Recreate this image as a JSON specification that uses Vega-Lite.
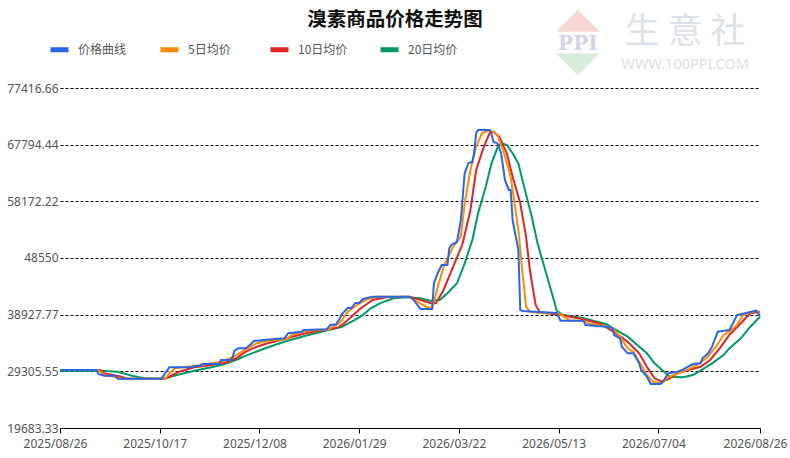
{
  "$schema": "https://vega.github.io/schema/vega-lite/v6.json",
  "description": "溴素商品价格走势图",
  "width": 700,
  "height": 340,
  "autosize": {"type": "none"},
  "padding": {"left": 60, "top": 88, "right": 30, "bottom": 30},
  "background": "#ffffff",
  "title": {
    "text": "溴素商品价格走势图",
    "font": "Noto Sans CJK SC",
    "fontSize": 19.5,
    "fontWeight": "bold",
    "color": "#111111",
    "anchor": "middle",
    "frame": "group",
    "offset": -21,
    "dx": -15
  },
  "datasets": {
    "prices": [
      {"s": "20日均价", "d": "2025/08/26", "v": 29400},
      {"s": "20日均价", "d": "2025/09/14", "v": 29440},
      {"s": "20日均价", "d": "2025/09/25", "v": 29240},
      {"s": "20日均价", "d": "2025/10/03", "v": 28510},
      {"s": "20日均价", "d": "2025/10/09", "v": 28120},
      {"s": "20日均价", "d": "2025/10/19", "v": 28060},
      {"s": "20日均价", "d": "2025/10/26", "v": 28680},
      {"s": "20日均价", "d": "2025/11/04", "v": 29410},
      {"s": "20日均价", "d": "2025/11/13", "v": 29990},
      {"s": "20日均价", "d": "2025/11/20", "v": 30550},
      {"s": "20日均价", "d": "2025/11/27", "v": 31400},
      {"s": "20日均价", "d": "2025/11/30", "v": 31850},
      {"s": "20日均价", "d": "2025/12/11", "v": 33220},
      {"s": "20日均价", "d": "2025/12/21", "v": 34340},
      {"s": "20日均价", "d": "2026/01/01", "v": 35360},
      {"s": "20日均价", "d": "2026/01/13", "v": 36330},
      {"s": "20日均价", "d": "2026/01/20", "v": 36880},
      {"s": "20日均价", "d": "2026/01/27", "v": 38100},
      {"s": "20日均价", "d": "2026/01/31", "v": 38900},
      {"s": "20日均价", "d": "2026/02/04", "v": 40000},
      {"s": "20日均价", "d": "2026/02/09", "v": 40900},
      {"s": "20日均价", "d": "2026/02/16", "v": 41710},
      {"s": "20日均价", "d": "2026/02/23", "v": 41880},
      {"s": "20日均价", "d": "2026/03/02", "v": 41710},
      {"s": "20日均价", "d": "2026/03/07", "v": 41300},
      {"s": "20日均价", "d": "2026/03/12", "v": 41420},
      {"s": "20日均价", "d": "2026/03/16", "v": 42560},
      {"s": "20日均价", "d": "2026/03/21", "v": 44260},
      {"s": "20日均价", "d": "2026/03/25", "v": 47650},
      {"s": "20日均价", "d": "2026/03/29", "v": 51610},
      {"s": "20日均价", "d": "2026/04/01", "v": 56140},
      {"s": "20日均价", "d": "2026/04/05", "v": 60660},
      {"s": "20日均价", "d": "2026/04/08", "v": 64630},
      {"s": "20日均价", "d": "2026/04/11", "v": 67180},
      {"s": "20日均价", "d": "2026/04/13", "v": 68030},
      {"s": "20日均价", "d": "2026/04/16", "v": 67740},
      {"s": "20日均价", "d": "2026/04/19", "v": 66330},
      {"s": "20日均价", "d": "2026/04/22", "v": 64630},
      {"s": "20日均价", "d": "2026/04/25", "v": 60660},
      {"s": "20日均价", "d": "2026/04/29", "v": 55560},
      {"s": "20日均价", "d": "2026/05/02", "v": 51050},
      {"s": "20日均价", "d": "2026/05/06", "v": 46510},
      {"s": "20日均价", "d": "2026/05/10", "v": 41980},
      {"s": "20日均价", "d": "2026/05/12", "v": 39600},
      {"s": "20日均价", "d": "2026/05/15", "v": 38900},
      {"s": "20日均价", "d": "2026/05/26", "v": 38310},
      {"s": "20日均价", "d": "2026/06/07", "v": 37300},
      {"s": "20日均价", "d": "2026/06/10", "v": 36700},
      {"s": "20日均价", "d": "2026/06/18", "v": 35190},
      {"s": "20日均价", "d": "2026/06/23", "v": 33780},
      {"s": "20日均价", "d": "2026/06/28", "v": 32370},
      {"s": "20日均价", "d": "2026/07/02", "v": 30670},
      {"s": "20日均价", "d": "2026/07/06", "v": 29530},
      {"s": "20日均价", "d": "2026/07/10", "v": 28400},
      {"s": "20日均价", "d": "2026/07/17", "v": 28290},
      {"s": "20日均价", "d": "2026/07/22", "v": 28680},
      {"s": "20日均价", "d": "2026/07/27", "v": 29650},
      {"s": "20日均价", "d": "2026/08/01", "v": 30670},
      {"s": "20日均价", "d": "2026/08/07", "v": 32080},
      {"s": "20日均价", "d": "2026/08/10", "v": 33200},
      {"s": "20日均价", "d": "2026/08/16", "v": 34920},
      {"s": "20日均价", "d": "2026/08/21", "v": 36880},
      {"s": "20日均价", "d": "2026/08/26", "v": 38580},

      {"s": "10日均价", "d": "2025/08/26", "v": 29530},
      {"s": "10日均价", "d": "2025/09/16", "v": 29530},
      {"s": "10日均价", "d": "2025/09/18", "v": 28970},
      {"s": "10日均价", "d": "2025/09/27", "v": 28400},
      {"s": "10日均价", "d": "2025/09/30", "v": 28060},
      {"s": "10日均价", "d": "2025/10/20", "v": 28060},
      {"s": "10日均价", "d": "2025/10/27", "v": 29240},
      {"s": "10日均价", "d": "2025/11/04", "v": 29990},
      {"s": "10日均价", "d": "2025/11/13", "v": 30380},
      {"s": "10日均价", "d": "2025/11/20", "v": 30770},
      {"s": "10日均价", "d": "2025/11/26", "v": 31520},
      {"s": "10日均价", "d": "2025/11/30", "v": 32470},
      {"s": "10日均价", "d": "2025/12/05", "v": 33300},
      {"s": "10日均价", "d": "2025/12/11", "v": 33950},
      {"s": "10日均价", "d": "2025/12/21", "v": 34800},
      {"s": "10日均价", "d": "2026/01/01", "v": 35760},
      {"s": "10日均价", "d": "2026/01/13", "v": 36440},
      {"s": "10日均价", "d": "2026/01/18", "v": 36720},
      {"s": "10日均价", "d": "2026/01/22", "v": 37730},
      {"s": "10日均价", "d": "2026/01/25", "v": 38580},
      {"s": "10日均价", "d": "2026/01/29", "v": 39800},
      {"s": "10日均价", "d": "2026/02/05", "v": 41420},
      {"s": "10日均价", "d": "2026/02/12", "v": 41880},
      {"s": "10日均价", "d": "2026/02/24", "v": 41980},
      {"s": "10日均价", "d": "2026/03/02", "v": 41420},
      {"s": "10日均价", "d": "2026/03/07", "v": 40900},
      {"s": "10日均价", "d": "2026/03/10", "v": 40860},
      {"s": "10日均价", "d": "2026/03/14", "v": 43120},
      {"s": "10日均价", "d": "2026/03/19", "v": 47070},
      {"s": "10日均价", "d": "2026/03/24", "v": 51050},
      {"s": "10日均价", "d": "2026/03/28", "v": 56700},
      {"s": "10日均价", "d": "2026/03/31", "v": 63490},
      {"s": "10日均价", "d": "2026/04/04", "v": 67450},
      {"s": "10日均价", "d": "2026/04/07", "v": 69730},
      {"s": "10日均价", "d": "2026/04/09", "v": 70000},
      {"s": "10日均价", "d": "2026/04/12", "v": 69150},
      {"s": "10日均价", "d": "2026/04/16", "v": 66330},
      {"s": "10日均价", "d": "2026/04/19", "v": 62360},
      {"s": "10日均价", "d": "2026/04/23", "v": 57840},
      {"s": "10日均价", "d": "2026/04/26", "v": 52170},
      {"s": "10日均价", "d": "2026/04/28", "v": 46510},
      {"s": "10日均价", "d": "2026/05/01", "v": 40570},
      {"s": "10日均价", "d": "2026/05/03", "v": 39430},
      {"s": "10日均价", "d": "2026/05/05", "v": 39260},
      {"s": "10日均价", "d": "2026/05/14", "v": 38870},
      {"s": "10日均价", "d": "2026/05/26", "v": 38140},
      {"s": "10日均价", "d": "2026/06/04", "v": 37340},
      {"s": "10日均价", "d": "2026/06/12", "v": 35760},
      {"s": "10日均价", "d": "2026/06/18", "v": 34340},
      {"s": "10日均价", "d": "2026/06/24", "v": 32370},
      {"s": "10日均价", "d": "2026/06/28", "v": 30090},
      {"s": "10日均价", "d": "2026/07/02", "v": 28120},
      {"s": "10日均价", "d": "2026/07/06", "v": 27540},
      {"s": "10日均价", "d": "2026/07/09", "v": 27960},
      {"s": "10日均价", "d": "2026/07/14", "v": 28970},
      {"s": "10日均价", "d": "2026/07/21", "v": 29650},
      {"s": "10日均价", "d": "2026/07/26", "v": 30090},
      {"s": "10日均价", "d": "2026/07/31", "v": 31230},
      {"s": "10日均价", "d": "2026/08/05", "v": 33220},
      {"s": "10日均价", "d": "2026/08/10", "v": 35480},
      {"s": "10日均价", "d": "2026/08/16", "v": 37460},
      {"s": "10日均价", "d": "2026/08/21", "v": 39160},
      {"s": "10日均价", "d": "2026/08/26", "v": 39430},

      {"s": "5日均价", "d": "2025/08/26", "v": 29530},
      {"s": "5日均价", "d": "2025/09/15", "v": 29530},
      {"s": "5日均价", "d": "2025/09/18", "v": 28680},
      {"s": "5日均价", "d": "2025/09/25", "v": 28290},
      {"s": "5日均价", "d": "2025/09/27", "v": 28060},
      {"s": "5日均价", "d": "2025/10/20", "v": 28060},
      {"s": "5日均价", "d": "2025/10/22", "v": 29000},
      {"s": "5日均价", "d": "2025/10/25", "v": 29820},
      {"s": "5日均价", "d": "2025/11/04", "v": 30210},
      {"s": "5日均价", "d": "2025/11/10", "v": 30500},
      {"s": "5日均价", "d": "2025/11/18", "v": 30940},
      {"s": "5日均价", "d": "2025/11/24", "v": 31700},
      {"s": "5日均价", "d": "2025/11/29", "v": 32700},
      {"s": "5日均价", "d": "2025/12/06", "v": 34000},
      {"s": "5日均价", "d": "2025/12/11", "v": 34460},
      {"s": "5日均价", "d": "2025/12/22", "v": 34800},
      {"s": "5日均价", "d": "2025/12/25", "v": 35480},
      {"s": "5日均价", "d": "2025/12/29", "v": 35940},
      {"s": "5日均价", "d": "2026/01/03", "v": 36210},
      {"s": "5日均价", "d": "2026/01/13", "v": 36400},
      {"s": "5日均价", "d": "2026/01/15", "v": 36800},
      {"s": "5日均价", "d": "2026/01/18", "v": 37300},
      {"s": "5日均价", "d": "2026/01/20", "v": 38000},
      {"s": "5日均价", "d": "2026/01/23", "v": 39430},
      {"s": "5日均价", "d": "2026/01/28", "v": 40570},
      {"s": "5日均价", "d": "2026/02/02", "v": 41540},
      {"s": "5日均价", "d": "2026/02/07", "v": 41980},
      {"s": "5日均价", "d": "2026/02/24", "v": 41980},
      {"s": "5日均价", "d": "2026/02/28", "v": 41130},
      {"s": "5日均价", "d": "2026/03/05", "v": 40280},
      {"s": "5日均价", "d": "2026/03/08", "v": 39950},
      {"s": "5日均价", "d": "2026/03/11", "v": 43680},
      {"s": "5日均价", "d": "2026/03/14", "v": 47070},
      {"s": "5日均价", "d": "2026/03/19", "v": 50470},
      {"s": "5日均价", "d": "2026/03/23", "v": 52170},
      {"s": "5日均价", "d": "2026/03/25", "v": 57840},
      {"s": "5日均价", "d": "2026/03/28", "v": 63490},
      {"s": "5日均价", "d": "2026/03/31", "v": 67450},
      {"s": "5日均价", "d": "2026/04/03", "v": 69730},
      {"s": "5日均价", "d": "2026/04/07", "v": 70290},
      {"s": "5日均价", "d": "2026/04/11", "v": 69440},
      {"s": "5日均价", "d": "2026/04/14", "v": 66890},
      {"s": "5日均价", "d": "2026/04/18", "v": 62360},
      {"s": "5日均价", "d": "2026/04/20", "v": 57840},
      {"s": "5日均价", "d": "2026/04/22", "v": 53310},
      {"s": "5日均价", "d": "2026/04/24", "v": 46510},
      {"s": "5日均价", "d": "2026/04/26", "v": 40280},
      {"s": "5日均价", "d": "2026/04/28", "v": 39430},
      {"s": "5日均价", "d": "2026/05/02", "v": 39260},
      {"s": "5日均价", "d": "2026/05/12", "v": 39210},
      {"s": "5日均价", "d": "2026/05/14", "v": 39000},
      {"s": "5日均价", "d": "2026/05/19", "v": 37900},
      {"s": "5日均价", "d": "2026/05/26", "v": 37900},
      {"s": "5日均价", "d": "2026/05/29", "v": 37340},
      {"s": "5日均价", "d": "2026/06/04", "v": 37170},
      {"s": "5日均价", "d": "2026/06/10", "v": 36700},
      {"s": "5日均价", "d": "2026/06/14", "v": 35200},
      {"s": "5日均价", "d": "2026/06/18", "v": 33220},
      {"s": "5日均价", "d": "2026/06/21", "v": 32600},
      {"s": "5日均价", "d": "2026/06/25", "v": 30380},
      {"s": "5日均价", "d": "2026/06/28", "v": 28680},
      {"s": "5日均价", "d": "2026/07/01", "v": 27540},
      {"s": "5日均价", "d": "2026/07/06", "v": 27280},
      {"s": "5日均价", "d": "2026/07/09", "v": 28290},
      {"s": "5日均价", "d": "2026/07/14", "v": 28970},
      {"s": "5日均价", "d": "2026/07/19", "v": 29530},
      {"s": "5日均价", "d": "2026/07/24", "v": 30380},
      {"s": "5日均价", "d": "2026/07/29", "v": 31520},
      {"s": "5日均价", "d": "2026/08/03", "v": 33490},
      {"s": "5日均价", "d": "2026/08/07", "v": 35480},
      {"s": "5日均价", "d": "2026/08/10", "v": 36100},
      {"s": "5日均价", "d": "2026/08/14", "v": 37170},
      {"s": "5日均价", "d": "2026/08/17", "v": 38870},
      {"s": "5日均价", "d": "2026/08/24", "v": 39600},
      {"s": "5日均价", "d": "2026/08/26", "v": 39160},

      {"s": "价格曲线", "d": "2025/08/26", "v": 29530},
      {"s": "价格曲线", "d": "2025/09/14", "v": 29530},
      {"s": "价格曲线", "d": "2025/09/15", "v": 28850},
      {"s": "价格曲线", "d": "2025/09/18", "v": 28570},
      {"s": "价格曲线", "d": "2025/09/24", "v": 28570},
      {"s": "价格曲线", "d": "2025/09/25", "v": 28060},
      {"s": "价格曲线", "d": "2025/10/18", "v": 28060},
      {"s": "价格曲线", "d": "2025/10/21", "v": 29530},
      {"s": "价格曲线", "d": "2025/10/22", "v": 29990},
      {"s": "价格曲线", "d": "2025/11/03", "v": 29990},
      {"s": "价格曲线", "d": "2025/11/04", "v": 30210},
      {"s": "价格曲线", "d": "2025/11/07", "v": 30210},
      {"s": "价格曲线", "d": "2025/11/08", "v": 30550},
      {"s": "价格曲线", "d": "2025/11/17", "v": 30550},
      {"s": "价格曲线", "d": "2025/11/18", "v": 31230},
      {"s": "价格曲线", "d": "2025/11/23", "v": 31230},
      {"s": "价格曲线", "d": "2025/11/24", "v": 31740},
      {"s": "价格曲线", "d": "2025/11/25", "v": 32810},
      {"s": "价格曲线", "d": "2025/11/27", "v": 33220},
      {"s": "价格曲线", "d": "2025/12/01", "v": 33220},
      {"s": "价格曲线", "d": "2025/12/04", "v": 34070},
      {"s": "价格曲线", "d": "2025/12/05", "v": 34460},
      {"s": "价格曲线", "d": "2025/12/10", "v": 34630},
      {"s": "价格曲线", "d": "2025/12/21", "v": 34920},
      {"s": "价格曲线", "d": "2025/12/23", "v": 35770},
      {"s": "价格曲线", "d": "2025/12/30", "v": 36040},
      {"s": "价格曲线", "d": "2025/12/31", "v": 36330},
      {"s": "价格曲线", "d": "2026/01/12", "v": 36440},
      {"s": "价格曲线", "d": "2026/01/14", "v": 37170},
      {"s": "价格曲线", "d": "2026/01/17", "v": 37290},
      {"s": "价格曲线", "d": "2026/01/19", "v": 38360},
      {"s": "价格曲线", "d": "2026/01/20", "v": 39040},
      {"s": "价格曲线", "d": "2026/01/23", "v": 40060},
      {"s": "价格曲线", "d": "2026/01/25", "v": 40060},
      {"s": "价格曲线", "d": "2026/01/27", "v": 40910},
      {"s": "价格曲线", "d": "2026/01/29", "v": 40910},
      {"s": "价格曲线", "d": "2026/01/31", "v": 41590},
      {"s": "价格曲线", "d": "2026/02/05", "v": 41980},
      {"s": "价格曲线", "d": "2026/02/24", "v": 41980},
      {"s": "价格曲线", "d": "2026/02/26", "v": 41590},
      {"s": "价格曲线", "d": "2026/03/02", "v": 39890},
      {"s": "价格曲线", "d": "2026/03/08", "v": 39890},
      {"s": "价格曲线", "d": "2026/03/09", "v": 44310},
      {"s": "价格曲线", "d": "2026/03/11", "v": 46000},
      {"s": "价格曲线", "d": "2026/03/13", "v": 47360},
      {"s": "价格曲线", "d": "2026/03/16", "v": 47360},
      {"s": "价格曲线", "d": "2026/03/17", "v": 50250},
      {"s": "价格曲线", "d": "2026/03/18", "v": 50760},
      {"s": "价格曲线", "d": "2026/03/21", "v": 51270},
      {"s": "价格曲线", "d": "2026/03/23", "v": 55000},
      {"s": "价格曲线", "d": "2026/03/24", "v": 58910},
      {"s": "价格曲线", "d": "2026/03/25", "v": 62980},
      {"s": "价格曲线", "d": "2026/03/27", "v": 64680},
      {"s": "价格曲线", "d": "2026/03/29", "v": 64850},
      {"s": "价格曲线", "d": "2026/03/30", "v": 66550},
      {"s": "价格曲线", "d": "2026/03/31", "v": 69780},
      {"s": "价格曲线", "d": "2026/04/01", "v": 70290},
      {"s": "价格曲线", "d": "2026/04/07", "v": 70290},
      {"s": "价格曲线", "d": "2026/04/08", "v": 69610},
      {"s": "价格曲线", "d": "2026/04/09", "v": 68250},
      {"s": "价格曲线", "d": "2026/04/11", "v": 68080},
      {"s": "价格曲线", "d": "2026/04/13", "v": 66380},
      {"s": "价格曲线", "d": "2026/04/15", "v": 61800},
      {"s": "价格曲线", "d": "2026/04/17", "v": 60100},
      {"s": "价格曲线", "d": "2026/04/18", "v": 60100},
      {"s": "价格曲线", "d": "2026/04/19", "v": 55000},
      {"s": "价格曲线", "d": "2026/04/22", "v": 49910},
      {"s": "价格曲线", "d": "2026/04/23", "v": 39720},
      {"s": "价格曲线", "d": "2026/04/24", "v": 39550},
      {"s": "价格曲线", "d": "2026/05/12", "v": 39210},
      {"s": "价格曲线", "d": "2026/05/14", "v": 37900},
      {"s": "价格曲线", "d": "2026/05/26", "v": 37900},
      {"s": "价格曲线", "d": "2026/05/27", "v": 37170},
      {"s": "价格曲线", "d": "2026/06/07", "v": 36880},
      {"s": "价格曲线", "d": "2026/06/10", "v": 36660},
      {"s": "价格曲线", "d": "2026/06/11", "v": 35480},
      {"s": "价格曲线", "d": "2026/06/14", "v": 34920},
      {"s": "价格曲线", "d": "2026/06/15", "v": 33490},
      {"s": "价格曲线", "d": "2026/06/18", "v": 32370},
      {"s": "价格曲线", "d": "2026/06/21", "v": 32370},
      {"s": "价格曲线", "d": "2026/06/24", "v": 30670},
      {"s": "价格曲线", "d": "2026/06/25", "v": 29530},
      {"s": "价格曲线", "d": "2026/06/28", "v": 28400},
      {"s": "价格曲线", "d": "2026/06/30", "v": 27160},
      {"s": "价格曲线", "d": "2026/07/05", "v": 27160},
      {"s": "价格曲线", "d": "2026/07/07", "v": 27840},
      {"s": "价格曲线", "d": "2026/07/09", "v": 28970},
      {"s": "价格曲线", "d": "2026/07/14", "v": 29240},
      {"s": "价格曲线", "d": "2026/07/17", "v": 29650},
      {"s": "价格曲线", "d": "2026/07/22", "v": 30550},
      {"s": "价格曲线", "d": "2026/07/26", "v": 30670},
      {"s": "价格曲线", "d": "2026/07/27", "v": 31520},
      {"s": "价格曲线", "d": "2026/07/30", "v": 32370},
      {"s": "价格曲线", "d": "2026/08/01", "v": 33490},
      {"s": "价格曲线", "d": "2026/08/04", "v": 36040},
      {"s": "价格曲线", "d": "2026/08/10", "v": 36330},
      {"s": "价格曲线", "d": "2026/08/12", "v": 37510},
      {"s": "价格曲线", "d": "2026/08/14", "v": 38870},
      {"s": "价格曲线", "d": "2026/08/24", "v": 39600},
      {"s": "价格曲线", "d": "2026/08/26", "v": 38700}
    ]
  },
  "layer": [
    {
      "data": {"values": [{"d": "2026/05/23", "v": 86980}]},
      "mark": {"type": "point", "shape": "M-1,0L0,-1L1,0Z", "size": 1936, "filled": true, "opacity": 1, "color": "#f7d7d3", "strokeWidth": 0},
      "encoding": {
        "x": {"field": "d", "type": "temporal", "title": null},
        "y": {"field": "v", "type": "quantitative", "title": null}
      }
    },
    {
      "data": {"values": [{"d": "2026/05/23", "v": 83310}]},
      "mark": {"type": "point", "shape": "M-1,0L1,0L0,1Z", "size": 1936, "filled": true, "opacity": 1, "color": "#d7efda", "strokeWidth": 0},
      "encoding": {
        "x": {"field": "d", "type": "temporal", "title": null},
        "y": {"field": "v", "type": "quantitative", "title": null}
      }
    },
    {
      "data": {"values": [{"d": "2026/05/23", "v": 84970, "t": "PPI"}]},
      "mark": {"type": "text", "font": "DejaVu Serif", "fontSize": 20, "fontWeight": "bold", "color": "#d2d4ea", "baseline": "middle", "align": "center"},
      "encoding": {
        "x": {"field": "d", "type": "temporal", "title": null},
        "y": {"field": "v", "type": "quantitative", "title": null},
        "text": {"field": "t"}
      }
    },
    {
      "data": {"values": [{"d": "2026/07/18", "v": 86900, "t": "生 意 社"}]},
      "mark": {"type": "text", "font": "Noto Sans CJK SC", "fontSize": 35, "color": "#dde1ea", "baseline": "middle", "align": "center"},
      "encoding": {
        "x": {"field": "d", "type": "temporal", "title": null},
        "y": {"field": "v", "type": "quantitative", "title": null},
        "text": {"field": "t"}
      }
    },
    {
      "data": {"values": [{"d": "2026/07/18", "v": 81400, "t": "WWW.100PPI.COM"}]},
      "mark": {"type": "text", "font": "Noto Sans", "fontSize": 14.5, "color": "#e0e0e0", "baseline": "middle", "align": "center"},
      "encoding": {
        "x": {"field": "d", "type": "temporal", "title": null},
        "y": {"field": "v", "type": "quantitative", "title": null},
        "text": {"field": "t"}
      }
    },
    {
      "data": {"name": "prices"},
      "mark": {"type": "line", "strokeWidth": 2, "interpolate": "linear"},
      "encoding": {
        "x": {
          "field": "d",
          "type": "temporal",
          "title": null,
          "scale": {"domain": [{"year": 2025, "month": 8, "date": 26}, {"year": 2026, "month": 8, "date": 26}], "nice": false},
          "axis": {
            "values": [
              {"year": 2025, "month": 8, "date": 26},
              {"year": 2025, "month": 10, "date": 17},
              {"year": 2025, "month": 12, "date": 8},
              {"year": 2026, "month": 1, "date": 29},
              {"year": 2026, "month": 3, "date": 22},
              {"year": 2026, "month": 5, "date": 13},
              {"year": 2026, "month": 7, "date": 4},
              {"year": 2026, "month": 8, "date": 26}
            ],
            "format": "%Y/%m/%d",
            "grid": false,
            "domainColor": "#000000",
            "domainWidth": 1,
            "tickColor": "#000000",
            "tickSize": 5,
            "labelFont": "Noto Sans",
            "labelFontSize": 12,
            "labelColor": "#555555",
            "labelPadding": 5,
            "labelOffset": -5,
            "labelFlush": false,
            "labelOverlap": false,
            "labelBound": false
          }
        },
        "y": {
          "field": "v",
          "type": "quantitative",
          "title": null,
          "scale": {"domain": [19683.33, 77416.66], "nice": false, "zero": false},
          "axis": {
            "values": [19683.33, 29305.55, 38927.77, 48550, 58172.22, 67794.44, 77416.66],
            "format": ".7~r",
            "domain": false,
            "ticks": false,
            "grid": true,
            "gridColor": "#000000",
            "gridDash": [3, 2],
            "gridWidth": 1,
            "gridOpacity": 1,
            "labelFont": "Noto Sans",
            "labelFontSize": 12,
            "labelColor": "#555555",
            "labelPadding": 2
          }
        },
        "color": {
          "field": "s",
          "type": "nominal",
          "scale": {
            "domain": ["价格曲线", "5日均价", "10日均价", "20日均价"],
            "range": ["#2a66e8", "#ff8c00", "#e02525", "#009a66"]
          },
          "legend": {
            "title": null,
            "orient": "none",
            "legendX": -12,
            "legendY": -50,
            "direction": "horizontal",
            "columns": 4,
            "gridAlign": "all",
            "columnPadding": 22,
            "symbolType": "stroke",
            "symbolSize": 324,
            "symbolStrokeWidth": 5,
            "labelFont": "Noto Sans CJK SC",
            "labelFontSize": 12,
            "labelColor": "#555555",
            "labelOffset": 7
          }
        }
      }
    }
  ],
  "config": {
    "view": {"stroke": null},
    "font": "Noto Sans CJK SC"
  }
}
